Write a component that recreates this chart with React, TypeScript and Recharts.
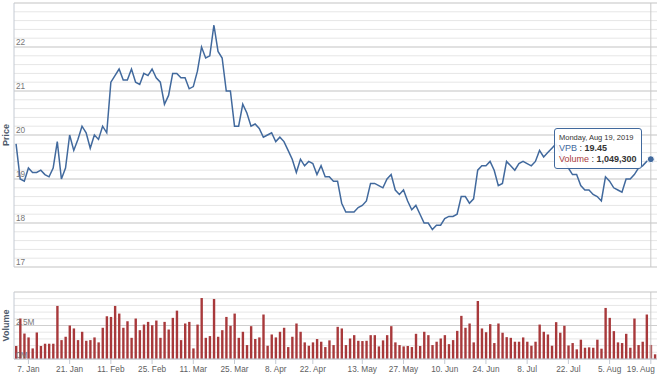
import {
  Bar,
  BarChart,
  CartesianGrid,
  Line,
  LineChart,
  ReferenceLine,
  Tooltip,
  XAxis,
  YAxis,
} from "recharts";

// trading days (HOSE, 2019) shown on the chart
const dates = [
  "2019-01-02", "2019-01-03", "2019-01-04",
  "2019-01-07", "2019-01-08", "2019-01-09", "2019-01-10", "2019-01-11",
  "2019-01-14", "2019-01-15", "2019-01-16", "2019-01-17", "2019-01-18",
  "2019-01-21", "2019-01-22", "2019-01-23", "2019-01-24", "2019-01-25",
  "2019-01-28", "2019-01-29", "2019-01-30", "2019-01-31", "2019-02-01",
  "2019-02-11", "2019-02-12", "2019-02-13", "2019-02-14", "2019-02-15",
  "2019-02-18", "2019-02-19", "2019-02-20", "2019-02-21", "2019-02-22",
  "2019-02-25", "2019-02-26", "2019-02-27", "2019-02-28", "2019-03-01",
  "2019-03-04", "2019-03-05", "2019-03-06", "2019-03-07", "2019-03-08",
  "2019-03-11", "2019-03-12", "2019-03-13", "2019-03-14", "2019-03-15",
  "2019-03-18", "2019-03-19", "2019-03-20", "2019-03-21", "2019-03-22",
  "2019-03-25", "2019-03-26", "2019-03-27", "2019-03-28", "2019-03-29",
  "2019-04-01", "2019-04-02", "2019-04-03", "2019-04-04", "2019-04-05",
  "2019-04-08", "2019-04-09", "2019-04-10", "2019-04-11", "2019-04-12",
  "2019-04-16", "2019-04-17", "2019-04-18", "2019-04-19",
  "2019-04-22", "2019-04-23", "2019-04-24", "2019-04-25", "2019-04-26",
  "2019-05-02", "2019-05-03",
  "2019-05-06", "2019-05-07", "2019-05-08", "2019-05-09", "2019-05-10",
  "2019-05-13", "2019-05-14", "2019-05-15", "2019-05-16", "2019-05-17",
  "2019-05-20", "2019-05-21", "2019-05-22", "2019-05-23", "2019-05-24",
  "2019-05-27", "2019-05-28", "2019-05-29", "2019-05-30", "2019-05-31",
  "2019-06-03", "2019-06-04", "2019-06-05", "2019-06-06", "2019-06-07",
  "2019-06-10", "2019-06-11", "2019-06-12", "2019-06-13", "2019-06-14",
  "2019-06-17", "2019-06-18", "2019-06-19", "2019-06-20", "2019-06-21",
  "2019-06-24", "2019-06-25", "2019-06-26", "2019-06-27", "2019-06-28",
  "2019-07-01", "2019-07-02", "2019-07-03", "2019-07-04", "2019-07-05",
  "2019-07-08", "2019-07-09", "2019-07-10", "2019-07-11", "2019-07-12",
  "2019-07-15", "2019-07-16", "2019-07-17", "2019-07-18", "2019-07-19",
  "2019-07-22", "2019-07-23", "2019-07-24", "2019-07-25", "2019-07-26",
  "2019-07-29", "2019-07-30", "2019-07-31", "2019-08-01", "2019-08-02",
  "2019-08-05", "2019-08-06", "2019-08-07", "2019-08-08", "2019-08-09",
  "2019-08-12", "2019-08-13", "2019-08-14", "2019-08-15", "2019-08-16",
  "2019-08-19", "2019-08-20",
];

// closing price, thousand VND
const prices = [
  19.8, 19.0, 18.95,
  19.25, 19.15, 19.15, 19.2, 19.1,
  19.05, 19.25, 19.85, 19.0, 19.25,
  20.0, 19.65, 19.9, 20.2, 20.05,
  19.7, 20.0, 19.9, 20.2, 20.05,
  21.2, 21.35, 21.5, 21.25, 21.25,
  21.5, 21.2, 21.15, 21.4, 21.35,
  21.5, 21.3, 21.2, 20.7, 20.9,
  21.4, 21.4, 21.3, 21.3, 21.05,
  21.1, 21.45, 22.0, 21.75, 21.8,
  22.5, 21.9, 21.75, 21.0, 21.0,
  20.2, 20.2, 20.7, 20.5, 20.2,
  20.25, 20.15, 19.95, 20.0, 20.05,
  19.85, 19.95, 19.85, 19.65, 19.45,
  19.15, 19.45, 19.3, 19.4,
  19.35, 19.1, 19.3, 19.05, 19.05,
  18.95, 18.95,
  18.45, 18.25, 18.25, 18.25, 18.35,
  18.4, 18.5, 18.9, 18.9, 18.85,
  18.8, 19.0, 19.1, 18.75, 18.65,
  18.75, 18.5, 18.3, 18.4, 18.2,
  18.0, 18.0, 17.85, 17.95, 17.95,
  18.1, 18.15, 18.15, 18.2, 18.6,
  18.6, 18.45, 18.55, 19.2, 19.3,
  19.3, 19.4, 19.2, 18.85, 18.9,
  19.4, 19.3, 19.2, 19.35, 19.4,
  19.35, 19.3, 19.4, 19.65, 19.5,
  19.6, 19.7, 19.8, 19.6, 19.4,
  19.25, 19.1, 19.1, 18.85, 18.75,
  18.75, 18.65, 18.6, 18.5, 19.05,
  18.95, 18.8, 18.75, 18.7, 19.0,
  19.0, 19.1, 19.25, 19.3, 19.4,
  19.45, null,
];

const volumes = [
  970000, 3020000, 1900000,
  1610000, 790000, 1980000, 970000, 1140000,
  1140000, 1140000, 3960000, 1410000, 1660000,
  2500000, 2280000, 1410000, 2030000, 1360000,
  1410000, 1610000, 1240000, 2330000, 3190000,
  3140000, 3960000, 3390000, 2330000, 2820000,
  1580000, 3020000, 2150000, 2570000, 2770000,
  2520000, 2870000, 1580000, 2770000, 2200000,
  3070000, 3610000, 1410000, 2650000, 2770000,
  790000, 2570000, 4550000, 1580000, 1710000,
  4480000, 1660000, 2150000, 3140000, 2480000,
  3390000, 1580000, 2030000, 1040000, 2450000,
  1490000, 1610000, 3320000, 990000, 1830000,
  1610000, 2030000, 2330000, 890000, 1660000,
  2650000, 2030000, 1240000, 990000,
  1240000, 1490000, 1290000, 890000, 1390000,
  1040000, 2400000,
  2280000, 1040000, 1530000, 1780000, 1360000,
  1340000, 1360000, 1780000, 1780000, 940000,
  1390000, 1780000, 2450000, 1240000, 1040000,
  940000, 970000, 890000, 1880000, 970000,
  2030000, 1780000, 1040000, 1290000, 1530000,
  1780000, 1110000, 1410000, 2100000, 3220000,
  2330000, 2650000, 1240000, 4330000, 2280000,
  2000000, 2600000, 1190000, 2650000, 1960000,
  1630000, 1580000, 1290000, 1290000, 1610000,
  1290000, 990000, 1290000, 2570000, 2030000,
  1830000, 990000, 2750000, 1960000, 2480000,
  1010000, 1190000, 720000, 1440000, 840000,
  870000, 840000, 1440000, 770000, 3810000,
  3070000, 2080000, 1240000, 1190000, 1880000,
  840000, 3020000, 1040000, 1290000, 3320000,
  1049300, 350000,
];

const tickDates = [
  "2019-01-07", "2019-01-21", "2019-02-11", "2019-02-25",
  "2019-03-11", "2019-03-25", "2019-04-08", "2019-04-22",
  "2019-05-13", "2019-05-27", "2019-06-10", "2019-06-24",
  "2019-07-08", "2019-07-22", "2019-08-05", "2019-08-19",
];

const priceTicks = [17, 18, 19, 20, 21, 22, 23];
const volumeTicks = [0, 2500000, 5000000];
const hoverDate = "2019-08-19";

const data = dates.map((date, i) => ({
  date,
  price: prices[i],
  volume: volumes[i],
}));

const priceMinor = Array.from({ length: 31 }, (_, k) => +(17 + k * 0.2).toFixed(1));
const volumeMinor = Array.from({ length: 11 }, (_, k) => k * 500000);

const MONTHS = ["Jan", "Feb", "Mar", "Apr", "May", "Jun", "Jul", "Aug", "Sep", "Oct", "Nov", "Dec"];
const WEEKDAYS = ["Sunday", "Monday", "Tuesday", "Wednesday", "Thursday", "Friday", "Saturday"];

const FONT = '"Liberation Sans", Arial, sans-serif';
const LINE_COLOR = "#41699d";
const BAR_COLOR = "#a8393b";
const MAJOR_GRID = "#cfcfcf";
const MINOR_GRID = "#e6e6e6";
const AXIS_COLOR = "#c4cad3";

const shortDate = (d: string) => `${Number(d.slice(8))}. ${MONTHS[Number(d.slice(5, 7)) - 1]}`;

const longDate = (d: string) => {
  const dt = new Date(d + "T00:00:00Z");
  return `${WEEKDAYS[dt.getUTCDay()]}, ${MONTHS[dt.getUTCMonth()]} ${dt.getUTCDate()}, ${dt.getUTCFullYear()}`;
};

const fmtVolume = (v: number) => `${v / 1000000}M`;

const PriceTick = ({ y, payload }: any) =>
  payload.value === 23 ? (
    <g />
  ) : (
    <text x={16} y={y - 2} fontSize={8.25} fill="#777" fontFamily={FONT}>
      {payload.value}
    </text>
  );

const VolumeTick = ({ y, payload }: any) =>
  payload.value === 5000000 ? (
    <g />
  ) : (
    <text x={16} y={y - 1} fontSize={8.25} fill="#777" fontFamily={FONT}>
      {fmtVolume(payload.value)}
    </text>
  );

const DateTick = ({ x, y, payload }: any) => {
  const last = payload.value === tickDates[tickDates.length - 1];
  return (
    <text
      x={last ? x + 4 : x}
      y={y}
      dy="0.71em"
      textAnchor={last ? "end" : "middle"}
      fontSize={8.25}
      fill="#606060"
      fontFamily={FONT}
    >
      {shortDate(payload.value)}
    </text>
  );
};

const PriceTooltip = ({ active, payload }: any) => {
  if (!active || !payload?.length) return null;
  const row = payload[0].payload;
  return (
    <div
      style={{
        background: "rgba(255,255,255,0.92)",
        border: `1px solid ${LINE_COLOR}`,
        borderRadius: 3,
        padding: "3px 4px 3px 4px",
        fontFamily: FONT,
        whiteSpace: "nowrap",
        color: "#333",
        lineHeight: "11px",
      }}
    >
      <div style={{ fontSize: 7.5 }}>{longDate(row.date)}</div>
      <div style={{ fontSize: 9 }}>
        <span style={{ color: LINE_COLOR }}>VPB</span> :{" "}
        <b>{row.price.toFixed(2)}</b>
      </div>
      <div style={{ fontSize: 9 }}>
        <span style={{ color: BAR_COLOR }}>Volume</span> :{" "}
        <b>{row.volume.toLocaleString("en-US")}</b>
      </div>
    </div>
  );
};

const titleStyle = { fontSize: 9, fontWeight: 700, fill: "#4d5a6a", fontFamily: FONT };

export default function App() {
  return (
    <div
      style={{
        position: "absolute",
        left: 0,
        top: 0,
        width: 660,
        height: 377,
        background: "#fff",
        fontFamily: FONT,
      }}
    >
      <LineChart
        width={660}
        height={270}
        data={data}
        margin={{ top: 3, right: 3, bottom: 3, left: 0 }}
      >
        <CartesianGrid vertical={false} stroke={MINOR_GRID} horizontalValues={priceMinor} />
        <CartesianGrid vertical={false} stroke={MAJOR_GRID} horizontalValues={priceTicks} />
        <XAxis dataKey="date" scale="band" hide />
        <YAxis
          width={14}
          domain={[17, 23]}
          ticks={priceTicks}
          interval={0}
          tick={<PriceTick />}
          tickLine={false}
          axisLine={{ stroke: AXIS_COLOR }}
          label={{ value: "Price", angle: -90, position: "center", dx: -1, style: titleStyle }}
        />
        <Tooltip
          active
          defaultIndex={154}
          position={{ x: 554, y: 128 }}
          cursor={{ stroke: "#c8c8c8", strokeWidth: 1 }}
          content={<PriceTooltip />}
          isAnimationActive={false}
          wrapperStyle={{ outline: "none" }}
        />
        <Line
          type="linear"
          dataKey="price"
          stroke={LINE_COLOR}
          strokeWidth={1.5}
          dot={false}
          activeDot={{ r: 3.5, fill: LINE_COLOR, stroke: "#fff", strokeWidth: 1 }}
          isAnimationActive={false}
        />
      </LineChart>
      <BarChart
        width={660}
        height={107}
        data={data}
        margin={{ top: 22, right: 3, bottom: 0, left: 0 }}
      >
        <CartesianGrid vertical={false} stroke={MINOR_GRID} horizontalValues={volumeMinor} />
        <CartesianGrid vertical={false} stroke={MAJOR_GRID} horizontalValues={volumeTicks} />
        <XAxis
          dataKey="date"
          scale="band"
          ticks={tickDates}
          interval={0}
          height={18}
          tickSize={5}
          tickMargin={2}
          tick={<DateTick />}
          tickLine={{ stroke: AXIS_COLOR }}
          axisLine={{ stroke: AXIS_COLOR }}
        />
        <YAxis
          width={14}
          domain={[0, 5000000]}
          ticks={volumeTicks}
          interval={0}
          tick={<VolumeTick />}
          tickLine={false}
          axisLine={{ stroke: AXIS_COLOR }}
          label={{ value: "Volume", angle: -90, position: "center", dx: -1, style: titleStyle }}
        />
        <ReferenceLine x={hoverDate} stroke="#c8c8c8" />
        <Bar dataKey="volume" fill={BAR_COLOR} barSize={2.4} isAnimationActive={false} />
      </BarChart>
    </div>
  );
}
